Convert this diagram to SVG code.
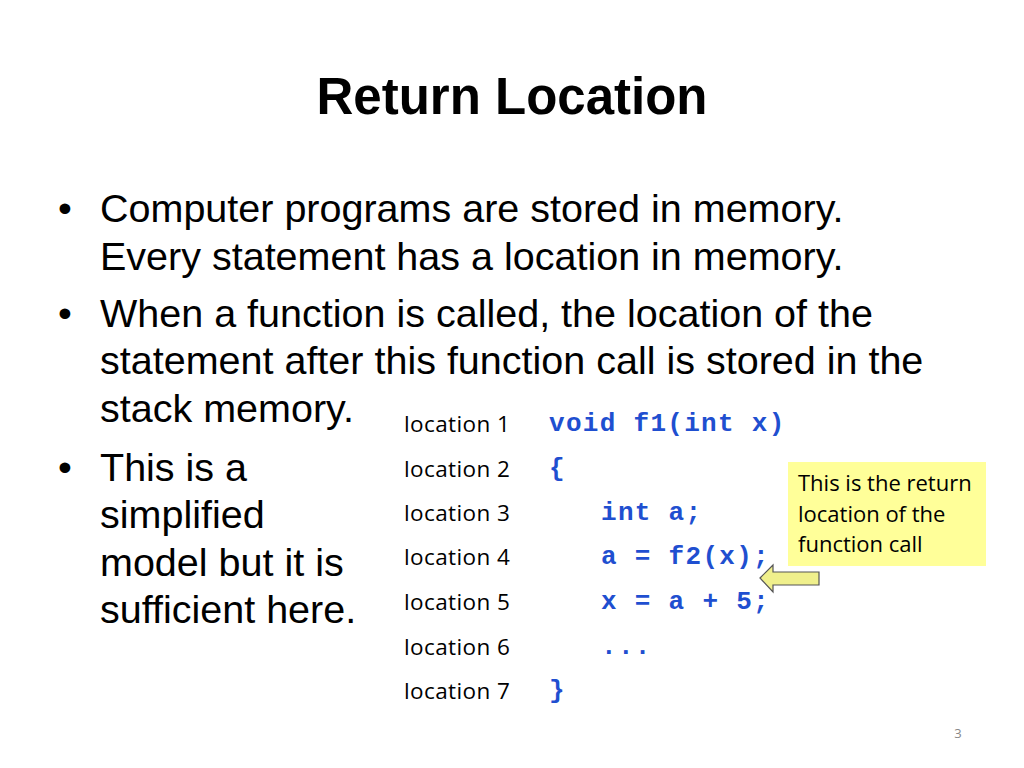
<svg xmlns="http://www.w3.org/2000/svg" width="1024" height="768" viewBox="0 0 1024 768">
<style>
.t{font-family:"Liberation Sans",Arial,sans-serif;fill:#000}
.b{font-size:39.5px}
.loc{font-family:"Open Sans","Liberation Sans",sans-serif;font-size:22.5px;fill:#000;letter-spacing:0.4px}
.code{font-family:"Liberation Mono","Courier New",monospace;font-weight:bold;font-size:26px;letter-spacing:1.3px;fill:#1f4fd0}
.note{font-family:"Open Sans","Liberation Sans",sans-serif;font-size:22px;fill:#000}
</style>
<rect width="1024" height="768" fill="#fff"/>
<text class="t" x="512" y="114" text-anchor="middle" font-size="51" font-weight="bold">Return Location</text>
<g id="bullets" class="t b">
<text x="58" y="222">•</text><text x="100" y="222">Computer programs are stored in memory.</text>
<text x="100" y="270">Every statement has a location in memory.</text>
<text x="58" y="327">•</text><text x="100" y="327">When a function is called, the location of the</text>
<text x="100" y="374">statement after this function call is stored in the</text>
<text x="100" y="422">stack memory.</text>
<text x="58" y="481">•</text><text x="100" y="481">This is a</text>
<text x="100" y="528">simplified</text>
<text x="100" y="576">model but it is</text>
<text x="100" y="623">sufficient here.</text>
</g>
<g id="locations" class="loc">
<text x="404" y="432">location 1</text>
<text x="404" y="477">location 2</text>
<text x="404" y="521">location 3</text>
<text x="404" y="565">location 4</text>
<text x="404" y="610">location 5</text>
<text x="404" y="655">location 6</text>
<text x="404" y="699">location 7</text>
</g>
<g id="code" class="code">
<text x="549" y="431">void f1(int x)</text>
<text x="549" y="476">{</text>
<text x="601" y="520">int a;</text>
<text x="601" y="564">a = f2(x);</text>
<text x="601" y="609">x = a + 5;</text>
<text x="601" y="654">...</text>
<text x="549" y="698">}</text>
</g>
<g id="note">
<rect x="788" y="462" width="198" height="104" fill="#ffff99"/>
<text class="note" x="798" y="491">This is the return</text>
<text class="note" x="798" y="522">location of the</text>
<text class="note" x="798" y="552">function call</text>
</g>
<g id="connectors">
<polygon points="760,578 773,565 773,572 819,572 819,585 773,585 773,592" fill="#f0f08c" stroke="#555" stroke-width="1.2"/>
</g>
<text x="958" y="738" font-family="Open Sans,Liberation Sans,sans-serif" font-size="13" fill="#888" text-anchor="middle">3</text>
</svg>
